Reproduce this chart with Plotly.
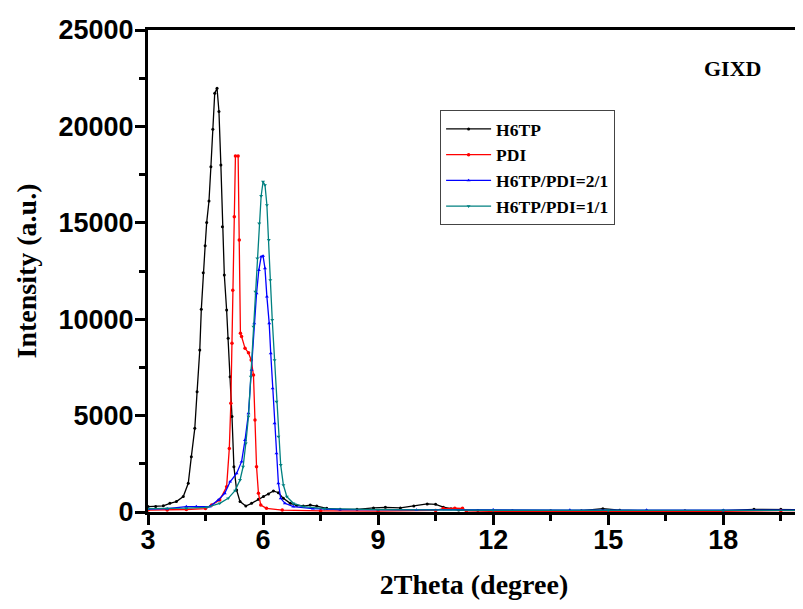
import plotly.graph_objects as go

# GIXD patterns, values
H6TP_X = [3.0, 3.2, 3.4, 3.57, 3.74, 3.92, 4.05, 4.13, 4.22, 4.28, 4.35, 4.39, 4.44, 4.49,
          4.53, 4.59, 4.64, 4.69, 4.74, 4.80, 4.85, 4.90, 4.94, 4.99, 5.05, 5.09, 5.14, 5.19,
          5.24, 5.31, 5.40, 5.55, 5.70, 5.88, 6.01, 6.14, 6.27, 6.40, 6.53, 6.71, 6.88, 7.05,
          7.23, 7.40, 7.66, 8.01, 8.45, 8.88, 9.19, 9.58, 9.93, 10.28, 10.5, 10.7, 10.9, 11.1,
          11.6, 12.5, 13.5, 14.3, 14.86, 15.3, 16.0, 17.0, 18.0, 18.8, 19.5, 20.0]
H6TP_Y = [280, 290, 320, 450, 540, 800, 1490, 2870, 4340, 6240, 8400, 10510, 12410, 13810,
          15010, 16130, 17910, 19850, 21720, 21975, 20770, 18000, 14800, 12290, 10480, 9010, 7020, 4950,
          2350, 1140, 540, 310, 450, 660, 800, 930, 1090, 1000, 710, 450, 350, 310,
          360, 310, 190, 140, 140, 210, 240, 210, 310, 420, 400, 250, 170, 100,
          80, 60, 60, 70, 170, 90, 60, 60, 70, 140, 140, 120]

PDI_X = [3.0, 3.5, 4.0, 4.5, 4.66, 4.87, 5.05, 5.12, 5.16, 5.19, 5.21, 5.25, 5.28, 5.35,
         5.38, 5.41, 5.44, 5.53, 5.62, 5.69, 5.75, 5.79, 5.83, 5.88, 5.94, 6.09, 6.5, 7.5,
         9.0, 10.5, 10.7, 11.0, 11.2, 11.3, 12.0, 14.0, 16.0, 18.0, 19.5, 20.0]
PDI_Y = [100, 110, 130, 180, 360, 620, 1310, 3300, 5640, 8750, 11500, 15320, 18470, 18470,
         14110, 9270, 9100, 8490, 8260, 7880, 7100, 4770, 2350, 970, 360, 190, 100, 60,
         50, 80, 180, 200, 190, 60, 30, 30, 30, 40, 70, 70]

MIX21_X = [3.0, 3.5, 4.0, 4.26, 4.61, 4.83, 5.0, 5.14, 5.31, 5.44, 5.53, 5.62, 5.70, 5.77,
           5.83, 5.89, 5.95, 6.0, 6.05, 6.10, 6.16, 6.20, 6.25, 6.30, 6.35, 6.40, 6.46, 6.57,
           6.79, 7.3, 8.0, 10.0, 12.0, 14.0, 16.0, 18.0, 20.0]
MIX21_Y = [150, 170, 280, 280, 280, 620, 970, 1570, 2000, 2610, 3730, 5120, 7370, 9790,
           11340, 12550, 13240, 13280, 12640, 11170, 9790, 8230, 6410, 4600, 3040, 1490, 710, 450,
           280, 170, 130, 110, 120, 100, 100, 90, 90]

MIX11_X = [3.0, 3.5, 4.0, 4.53, 4.87, 5.09, 5.27, 5.40, 5.48, 5.55, 5.62, 5.68, 5.75, 5.80,
           5.85, 5.90, 5.95, 6.0, 6.05, 6.10, 6.15, 6.19, 6.24, 6.30, 6.35, 6.40, 6.46, 6.53,
           6.62, 6.79, 7.05, 7.6, 9.0, 12.0, 15.0, 18.0, 20.0]
MIX11_Y = [170, 180, 200, 240, 450, 710, 1110, 1660, 2350, 3560, 4950, 7020, 9610, 11430,
           13160, 14970, 16390, 17130, 16960, 15920, 14110, 12030, 9960, 7880, 5720, 3910, 2440, 1400,
           800, 450, 280, 170, 120, 90, 80, 80, 80]

SERIES = [
    ("H6TP", H6TP_X, H6TP_Y, "#000000", "circle", 3),
    ("PDI", PDI_X, PDI_Y, "#FF0000", "circle", 3.5),
    ("H6TP/PDI=2/1", MIX21_X, MIX21_Y, "#0000FF", "triangle-up", 3.5),
    ("H6TP/PDI=1/1", MIX11_X, MIX11_Y, "#008080", "triangle-down", 3.5),
]

SERIF = "Liberation Serif"
SANS = "Liberation Sans"

fig = go.Figure()
for name, xs, ys, color, symbol, msize in SERIES:
    fig.add_trace(
        go.Scatter(
            x=xs,
            y=ys,
            mode="lines+markers",
            name=name,
            line={"color": color, "width": 1.3},
            marker={"color": color, "symbol": symbol, "size": msize},
        )
    )

axis_common = dict(
    showline=True,
    linecolor="black",
    linewidth=3,
    mirror=True,
    ticks="outside",
    ticklen=10,
    tickwidth=3,
    tickcolor="black",
    showgrid=False,
    zeroline=False,
    automargin=False,
    tickfont={"family": SANS, "size": 27, "color": "black", "weight": "bold"},
)

fig.update_xaxes(
    range=[3, 20],
    dtick=3,
    tick0=3,
    ticklabelstandoff=-8,
    minor={"dtick": 1.5, "ticks": "outside", "ticklen": 6, "tickwidth": 3, "tickcolor": "black"},
    title={"text": "2Theta (degree)", "font": {"family": SERIF, "size": 28, "color": "black", "weight": "bold"},
           "standoff": 20},
    **axis_common,
)
fig.update_yaxes(
    range=[0, 25000],
    dtick=5000,
    tickformat="d",
    ticklabelstandoff=-4,
    minor={"dtick": 2500, "ticks": "outside", "ticklen": 6, "tickwidth": 3, "tickcolor": "black"},
    title={"text": "Intensity (a.u.)", "font": {"family": SERIF, "size": 28, "color": "black", "weight": "bold"},
           "standoff": 14},
    **axis_common,
)

fig.add_annotation(
    text="GIXD",
    xref="paper", yref="paper",
    x=0.897, y=0.921,
    xanchor="center", yanchor="middle",
    showarrow=False,
    font={"family": SERIF, "size": 22, "color": "black", "weight": "bold"},
)

# the page body has an 8px margin, so the figure is 8px smaller than the window
fig.update_layout(
    width=795,
    height=601,
    margin={"l": 140, "r": 3, "t": 22, "b": 97},
    paper_bgcolor="white",
    plot_bgcolor="white",
    showlegend=True,
    legend={
        "x": 0.448, "y": 0.834,
        "xanchor": "left", "yanchor": "top",
        "bgcolor": "white",
        "bordercolor": "#444444",
        "borderwidth": 1,
        "itemwidth": 45,
        "font": {"family": SERIF, "size": 17.5, "color": "black", "weight": "bold"},
        "tracegroupgap": 0,
    },
)

fig.write_html("out.html")
